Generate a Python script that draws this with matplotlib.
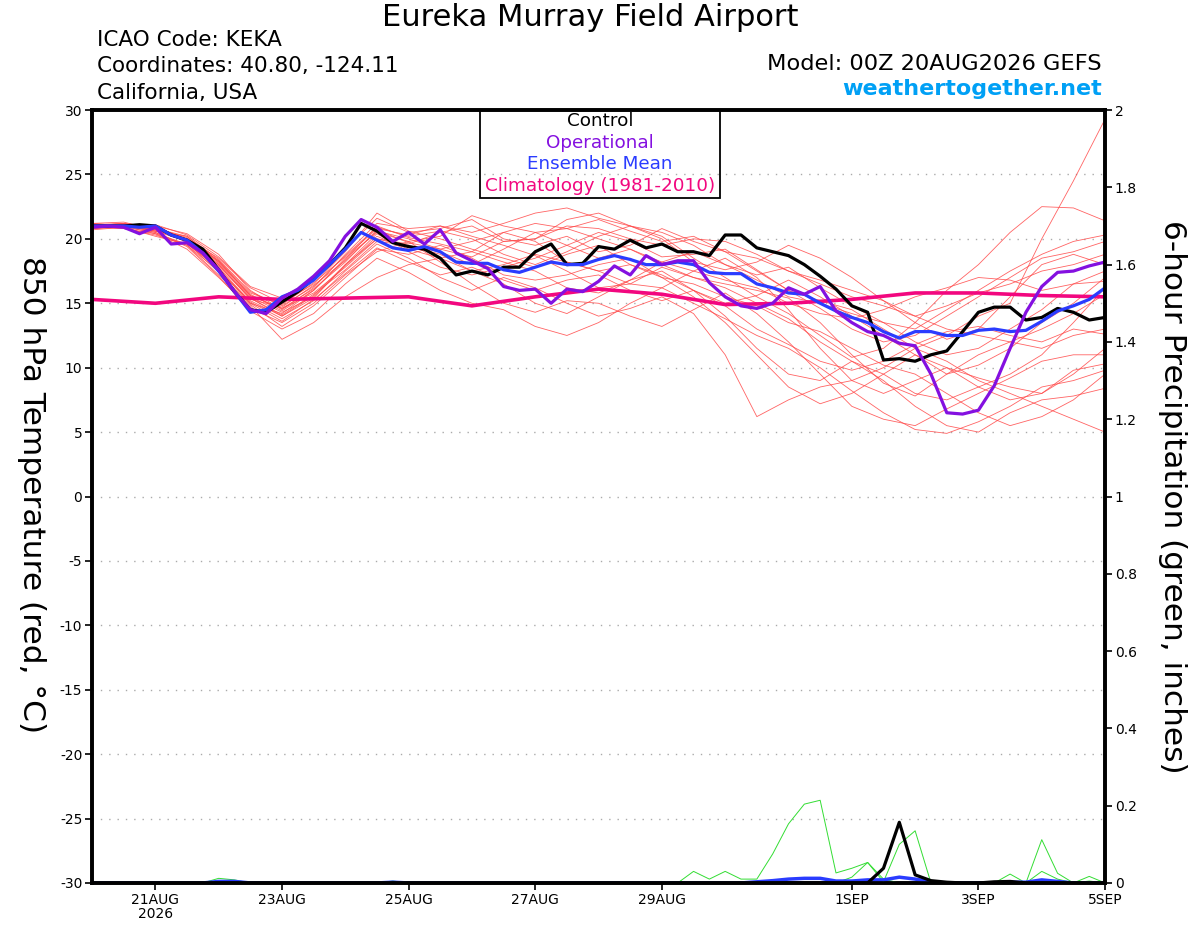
import numpy as np
import matplotlib
matplotlib.use("Agg")
import matplotlib.pyplot as plt

plt.rcParams['font.family'] = ['DejaVu Sans']
plt.rcParams['axes.unicode_minus'] = False

# time axis: days after 00Z 20AUG2026
tick_days = [1, 3, 5, 7, 9, 12, 14, 16]
tick_labels = ['21AUG\n2026', '23AUG', '25AUG', '27AUG', '29AUG', '1SEP', '3SEP', '5SEP']

# 6-hourly 850 hPa temperature (C)
control_t = [21.0, 21.0, 21.0, 21.1, 21.0, 20.3, 19.9, 19.2, 17.6, 15.9, 14.5, 14.3, 15.1,
             15.9, 16.9, 18.0, 19.3, 21.2, 20.6, 19.7, 19.4, 19.2, 18.5, 17.2, 17.5,
             17.2, 17.8, 17.8, 19.0, 19.6, 18.0, 18.1, 19.4, 19.2, 19.9, 19.3, 19.6,
             19.0, 19.0, 18.7, 20.3, 20.3, 19.3, 19.0, 18.7, 18.0, 17.1, 16.1, 14.8,
             14.3, 10.6, 10.7, 10.5, 11.0, 11.3, 12.8, 14.3, 14.7, 14.7, 13.7, 13.9,
             14.6, 14.3, 13.7, 13.9]
oper_t = [20.9, 21.0, 20.9, 20.4, 20.9, 19.6, 19.7, 18.9, 17.6, 15.9, 14.5, 14.2, 15.4,
          16.1, 17.1, 18.3, 20.2, 21.5, 20.9, 19.8, 20.5, 19.6, 20.7, 18.9, 18.3,
          17.7, 16.3, 16.0, 16.1, 15.0, 16.1, 15.9, 16.7, 17.9, 17.2, 18.7, 18.0,
          18.3, 18.3, 16.6, 15.5, 14.8, 14.6, 15.0, 16.2, 15.7, 16.3, 14.4, 13.5,
          12.8, 12.5, 11.9, 11.7, 9.5, 6.5, 6.4, 6.7, 8.6, 11.5, 14.3, 16.3,
          17.4, 17.5, 17.9, 18.2]
mean_t = [21.0, 21.0, 21.0, 20.9, 21.0, 20.3, 19.9, 18.9, 17.5, 15.9, 14.3, 14.5, 15.5,
          16.0, 16.8, 18.0, 19.2, 20.5, 19.9, 19.3, 19.1, 19.4, 19.0, 18.2, 18.1,
          18.1, 17.6, 17.4, 17.8, 18.2, 18.0, 18.0, 18.4, 18.7, 18.4, 18.0, 18.0,
          18.2, 18.0, 17.4, 17.3, 17.3, 16.5, 16.2, 15.8, 15.7, 15.0, 14.4, 13.9,
          13.5, 12.8, 12.3, 12.8, 12.8, 12.5, 12.5, 12.9, 13.0, 12.8, 12.9, 13.6,
          14.4, 14.8, 15.3, 16.2]

# daily climatology (1981-2010)
clim_t = [15.3, 15.0, 15.5, 15.3, 15.4, 15.5, 14.8, 15.5, 16.1, 15.7, 14.9, 15.0,
          15.3, 15.8, 15.8, 15.6, 15.5]

# ensemble members, 12-hourly
members_t = [
    [21.2, 21.0, 20.9, 19.8, 17.6, 15.0, 14.2, 16.0, 18.4, 21.0, 20.1, 19.6, 19.0, 20.5, 21.2, 20.8, 21.5,
     20.6, 19.8, 20.2, 19.0, 17.5, 16.0, 15.2, 14.5, 13.0, 11.5, 12.5, 14.0, 15.0, 20.0, 24.5, 29.3],
    [21.0, 21.2, 20.6, 20.2, 18.2, 15.6, 14.6, 15.8, 17.8, 20.0, 19.6, 20.5, 21.0, 19.8, 20.0, 21.5, 22.0,
     21.0, 20.2, 18.5, 17.0, 15.5, 14.2, 12.5, 10.8, 11.5, 13.5, 16.0, 18.0, 20.5, 22.5, 22.4, 21.4],
    [20.8, 20.9, 20.5, 19.5, 17.2, 14.8, 12.2, 13.5, 15.5, 17.0, 18.0, 18.5, 17.5, 16.5, 15.0, 14.2, 15.5,
     16.8, 17.5, 16.0, 14.0, 11.5, 9.5, 9.0, 10.5, 9.5, 8.0, 7.5, 8.5, 9.5, 11.0, 13.5, 16.2],
    [21.1, 21.0, 20.8, 20.0, 18.5, 16.2, 15.0, 16.5, 19.0, 22.0, 20.6, 20.0, 19.2, 18.5, 17.8, 18.8, 19.5,
     18.0, 17.0, 15.5, 13.5, 11.0, 8.5, 7.2, 8.0, 9.5, 11.0, 10.0, 8.5, 7.5, 8.0, 9.8, 10.3],
    [20.9, 21.1, 21.0, 20.4, 18.8, 16.0, 14.5, 16.2, 18.8, 21.2, 20.8, 21.0, 20.2, 19.5, 18.7, 17.5, 16.2,
     16.5, 17.8, 17.0, 16.2, 15.0, 13.8, 12.0, 10.5, 9.0, 7.0, 5.5, 5.0, 6.5, 7.5, 7.8, 8.4],
    [21.0, 20.8, 20.4, 19.2, 17.0, 14.6, 13.5, 15.0, 17.2, 19.0, 19.8, 18.2, 16.5, 15.0, 14.3, 15.2, 15.0,
     14.0, 13.2, 14.5, 15.8, 14.2, 12.0, 9.5, 7.0, 6.0, 5.5, 6.8, 8.0, 9.2, 10.5, 11.0, 11.0],
    [21.2, 21.3, 20.7, 19.9, 18.0, 15.4, 14.0, 15.6, 18.0, 20.4, 19.0, 17.8, 17.2, 17.8, 18.5, 19.5, 20.5,
     19.8, 18.6, 18.8, 19.2, 17.6, 16.0, 14.6, 13.0, 12.0, 12.5, 14.0, 15.5, 17.0, 18.5, 19.0, 19.8],
    [20.7, 20.9, 20.2, 19.6, 17.8, 15.1, 13.8, 15.2, 17.5, 19.6, 18.5, 17.0, 16.0, 17.0, 16.2, 15.0, 14.0,
     14.6, 15.5, 14.2, 11.0, 6.2, 7.5, 8.5, 9.0, 10.0, 11.5, 10.5, 9.0, 8.0, 7.0, 6.0, 5.0],
    [21.0, 21.0, 20.8, 20.1, 18.3, 15.8, 14.9, 16.6, 18.6, 20.8, 20.3, 21.0, 20.5, 21.2, 22.0, 22.4, 21.6,
     21.0, 20.5, 19.5, 18.0, 16.8, 15.5, 15.0, 14.2, 13.5, 12.0, 11.0, 11.5, 13.0, 14.5, 16.5, 17.5],
    [21.1, 21.2, 20.9, 19.7, 17.4, 14.9, 13.2, 14.8, 17.0, 19.2, 18.8, 19.5, 18.5, 17.2, 16.8, 17.2, 18.0,
     18.5, 17.0, 16.5, 15.5, 14.8, 13.5, 12.8, 11.5, 10.2, 9.5, 8.0, 6.5, 5.5, 6.2, 7.5, 9.5],
    [20.8, 21.0, 20.6, 20.0, 18.1, 15.5, 14.3, 15.5, 17.9, 20.2, 19.2, 18.5, 19.0, 18.2, 17.5, 16.2, 15.8,
     16.8, 18.2, 19.0, 18.0, 17.2, 17.8, 16.2, 14.8, 13.5, 13.0, 14.5, 16.0, 17.5, 18.8, 19.8, 20.3],
    [21.0, 21.1, 20.5, 19.4, 17.1, 14.4, 13.0, 14.2, 16.5, 18.5, 17.4, 16.0, 15.0, 14.5, 13.2, 12.5, 13.5,
     15.0, 16.2, 15.0, 13.8, 12.5, 11.5, 10.0, 8.2, 6.5, 5.2, 4.9, 5.8, 7.0, 8.5, 9.0, 9.8],
    [21.2, 21.0, 21.1, 20.3, 18.6, 16.3, 15.4, 16.8, 19.2, 21.6, 20.5, 20.8, 21.5, 20.0, 19.5, 20.2, 19.0,
     19.5, 20.8, 19.8, 19.0, 18.5, 17.5, 16.8, 16.0, 15.2, 14.0, 13.0, 12.5, 12.0, 13.0, 14.2, 15.7],
    [20.9, 20.8, 20.3, 19.5, 17.5, 15.2, 14.0, 15.4, 18.0, 20.0, 19.4, 19.0, 18.0, 19.2, 20.5, 19.5, 18.5,
     19.2, 18.0, 17.0, 16.5, 16.0, 15.4, 13.5, 11.0, 8.8, 7.8, 9.5, 11.0, 12.0, 11.5, 12.5, 13.0],
    [21.0, 21.1, 20.7, 19.9, 18.0, 15.3, 14.7, 16.4, 18.3, 20.6, 20.0, 19.2, 19.8, 20.5, 19.8, 18.2, 17.5,
     18.0, 17.2, 16.0, 15.0, 15.6, 16.8, 15.5, 14.0, 12.5, 11.0, 9.5, 10.2, 11.5, 13.5, 15.0, 17.0],
    [21.1, 20.9, 20.8, 20.2, 18.4, 15.9, 14.8, 16.3, 18.7, 20.9, 20.2, 20.6, 20.0, 18.8, 18.0, 19.0, 20.2,
     21.0, 20.0, 18.2, 17.6, 18.2, 19.5, 18.5, 17.0, 15.2, 13.5, 12.2, 13.0, 15.5, 18.0, 18.8, 18.0],
    [20.8, 21.0, 20.4, 19.6, 17.7, 15.0, 13.6, 15.3, 17.3, 19.3, 18.2, 17.2, 17.8, 16.8, 16.0, 16.8, 17.2,
     16.0, 15.2, 16.0, 14.8, 13.0, 11.8, 10.5, 9.8, 10.5, 11.8, 12.8, 13.2, 12.5, 12.0, 13.0, 12.6],
    [21.0, 21.2, 20.9, 20.0, 18.2, 15.7, 14.4, 16.0, 18.5, 20.5, 19.8, 20.2, 21.8, 21.0, 20.5, 20.8, 20.0,
     19.2, 18.2, 17.5, 16.8, 16.2, 15.0, 14.2, 13.8, 14.5, 15.5, 16.2, 17.0, 16.8, 16.0, 16.5, 16.7],
    [20.9, 21.0, 20.6, 19.8, 17.9, 15.4, 14.1, 15.7, 17.6, 19.8, 19.5, 18.8, 17.5, 18.0, 18.8, 18.2, 17.5,
     16.5, 16.2, 17.5, 18.5, 17.0, 14.5, 11.5, 9.0, 8.0, 9.0, 10.0, 9.2, 8.5, 8.0, 9.5, 11.5],
    [21.1, 21.0, 20.7, 20.0, 18.3, 15.6, 14.6, 16.1, 18.2, 20.7, 19.7, 19.2, 18.6, 19.8, 20.0, 21.0, 20.8,
     20.0, 19.5, 20.0, 19.8, 18.8, 17.5, 16.5, 15.5, 14.8, 14.0, 14.8, 15.8, 16.5, 17.5, 18.0, 18.8],
]

# 6-hourly precipitation (inches)
control_p = [0.0] * 50 + [0.038, 0.157, 0.021, 0.006, 0.002, 0.0, 0.0, 0.003, 0.004, 0.0,
                          0.0, 0.0, 0.0, 0.0, 0.0]
mean_p = ([0.0] * 8 + [0.004, 0.004] + [0.0] * 9 + [0.002] + [0.0] * 22 +
          [0.003, 0.006, 0.010, 0.012, 0.012, 0.005, 0.005, 0.008, 0.008, 0.015, 0.010,
           0.003, 0.0, 0.0, 0.0, 0.0, 0.002, 0.002, 0.008, 0.004, 0.0, 0.0, 0.0])
members_p = [
    [0.0] * 38 + [0.030, 0.010, 0.030, 0.010, 0.010, 0.075, 0.153, 0.204, 0.214, 0.026,
                  0.038, 0.053, 0.010] + [0.0] * 14,
    [0.0] * 48 + [0.015, 0.053, 0.003, 0.100, 0.135, 0.0] + [0.0] * 11,
    [0.0] * 58 + [0.023, 0.0, 0.112, 0.025, 0.0, 0.017, 0.0],
    [0.0] * 59 + [0.0, 0.030, 0.010, 0.0, 0.005, 0.0],
    [0.0] * 8 + [0.012, 0.008] + [0.0] * 9 + [0.005] + [0.0] * 45,
]

t6 = np.arange(len(control_t)) * 0.25
t12 = np.arange(len(members_t[0])) * 0.5
t24 = np.arange(len(clim_t)) * 1.0

fig = plt.figure(figsize=(12, 9.27), dpi=100)
ax = fig.add_axes([0.0767, 0.0475, 0.8442, 0.8338])
ax2 = ax.twinx()

for m in members_t:
    ax.plot(t12, m, color='#ff4848', lw=0.6, alpha=0.85)
ax.plot(t24, clim_t, color='#f2077f', lw=2.6)
ax.plot(t6, control_t, color='black', lw=2.3)
ax.plot(t6, mean_t, color='#2a3cff', lw=2.3)
ax.plot(t6, oper_t, color='#8410e0', lw=2.3)

for m in members_p:
    ax2.plot(t6, m, color='#33dd33', lw=0.7)
ax2.plot(t6, mean_p, color='#2a3cff', lw=2.5)
ax2.plot(t6, control_p, color='black', lw=2.3)

ax.set_xlim(0, 16)
ax.set_ylim(-30, 30)
ax2.set_ylim(0, 2)
ax.set_yticks(np.arange(-30, 31, 5))
ax2.set_yticks(np.arange(0, 2.01, 0.2))
ax2.set_yticklabels(['0', '0.2', '0.4', '0.6', '0.8', '1', '1.2', '1.4', '1.6', '1.8', '2'])
ax.set_xticks(tick_days)
ax.set_xticklabels(tick_labels, linespacing=1.0)

for y in range(-25, 30, 5):
    ax.axhline(y, color='#aaaaaa', lw=1.0, ls=(0, (1, 5)), zorder=0)

for a in (ax, ax2):
    for s in a.spines.values():
        s.set_linewidth(2.6)
    a.tick_params(direction='out', length=5, width=1.2, labelsize=10, pad=2)

fig.text(0.026, 0.466, '850 hPa Temperature (red, °C)', fontsize=22.5, rotation=270,
         ha='center', va='center')
fig.text(0.977, 0.464, '6-hour Precipitation (green, inches)', fontsize=22.5, rotation=270,
         ha='center', va='center')

# legend box
legend_items = [('Control', 'black'), ('Operational', '#8410e0'),
                ('Ensemble Mean', '#2a3cff'), ('Climatology (1981-2010)', '#f2077f')]
for k, (txt, col) in enumerate(legend_items):
    fig.text(0.5, 1 - (121 + k * 21.7) / 927, txt, color=col, fontsize=13.2,
             ha='center', va='center')
fig.add_artist(plt.Rectangle((480 / 1200, 1 - 198 / 927), 240 / 1200, 88 / 927,
                             transform=fig.transFigure, fill=False, ec='black', lw=1.3))

fig.text(0.492, 0.981, 'Eureka Murray Field Airport', fontsize=22, ha='center', va='center')
fig.text(0.081, 0.957, 'ICAO Code: KEKA', fontsize=15.5, ha='left', va='center')
fig.text(0.081, 0.929, 'Coordinates: 40.80, -124.11', fontsize=15.5, ha='left', va='center')
fig.text(0.081, 0.900, 'California, USA', fontsize=15.5, ha='left', va='center')
fig.text(0.918, 0.931, 'Model: 00Z 20AUG2026 GEFS', fontsize=16.2, ha='right', va='center')
fig.text(0.918, 0.904, 'weathertogether.net', fontsize=16.0, ha='right', va='center',
         color='#00a0f5', fontweight='bold')

fig.savefig('out.png', dpi=100)
